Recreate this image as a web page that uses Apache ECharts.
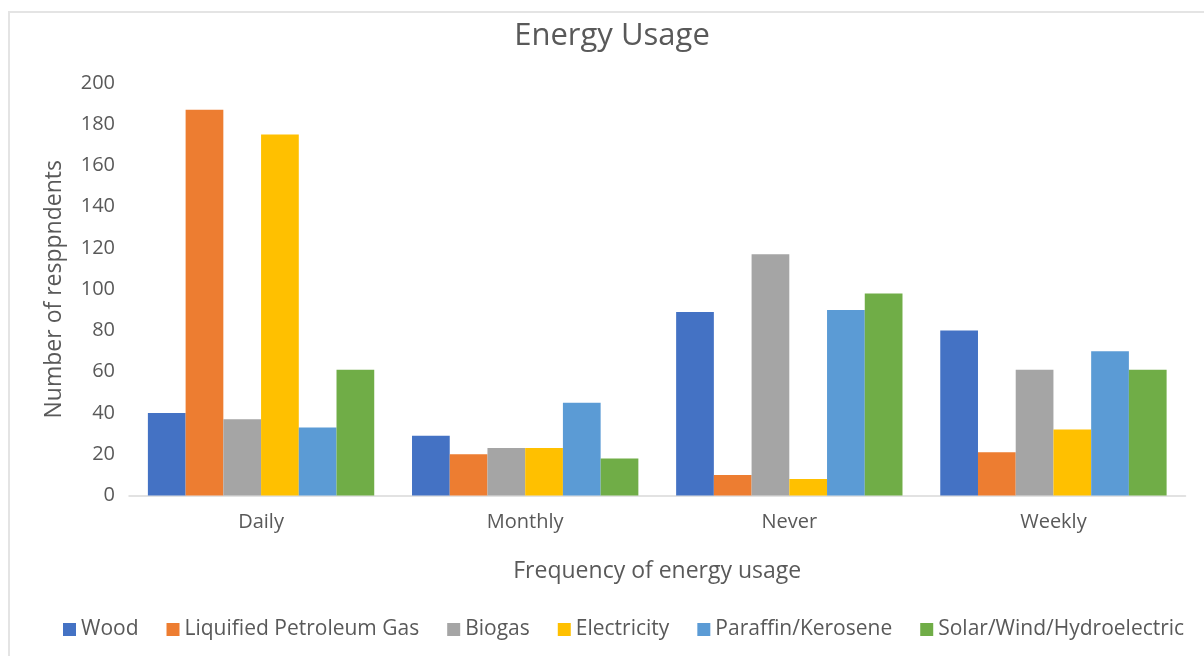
<!DOCTYPE html>
<html>
<head>
<meta charset="utf-8">
<script src="https://cdn.jsdelivr.net/npm/echarts@6/dist/echarts.min.js"></script>
<style>
  html, body { margin: 0; padding: 0; background: #fff; }
  #chart { width: 1204px; height: 656px; }
</style>
</head>
<body>
<div id="chart"></div>
<script>
// Survey responses: how often each energy source is used
const categories = ['Daily', 'Monthly', 'Never', 'Weekly'];
const seriesNames = ['Wood', 'Liquified Petroleum Gas', 'Biogas', 'Electricity', 'Paraffin/Kerosene', 'Solar/Wind/Hydroelectric'];
const wood = [40, 29, 89, 80];
const lpg = [187, 20, 10, 21];
const biogas = [37, 23, 117, 61];
const electricity = [175, 23, 8, 32];
const paraffin = [33, 45, 90, 70];
const solar = [61, 18, 98, 61];
const yTicks = [0, 20, 40, 60, 80, 100, 120, 140, 160, 180, 200];

const colors = ['#4472C4', '#ED7D31', '#A5A5A5', '#FFC000', '#5B9BD5', '#70AD47'];
const seriesData = [wood, lpg, biogas, electricity, paraffin, solar];
const FONT = '"Open Sans", sans-serif';
const TEXT = '#595959';

const chart = echarts.init(document.getElementById('chart'), null, { renderer: 'canvas' });

chart.setOption({
  animation: false,
  backgroundColor: '#ffffff',
  color: colors,
  textStyle: { fontFamily: FONT, color: TEXT },
  graphic: [{
    type: 'rect',
    shape: { x: 9, y: 12, width: 1300, height: 700 },
    style: { fill: 'none', stroke: '#e4e4e4', lineWidth: 2 },
    silent: true,
    z: -1
  }],
  title: {
    text: 'Energy Usage',
    left: 607,
    textAlign: 'center',
    top: 16,
    textStyle: { fontFamily: FONT, fontSize: 31, fontWeight: 'normal', color: TEXT }
  },
  legend: {
    data: seriesNames,
    left: 58,
    top: 614,
    itemWidth: 13,
    itemHeight: 13,
    itemGap: 28,
    icon: 'rect',
    textStyle: { fontFamily: FONT, fontSize: 21, color: TEXT, padding: [0, 0, 0, 0] }
  },
  grid: { left: 129, right: 18.5, top: 83, bottom: 160.5, containLabel: false },
  xAxis: {
    type: 'category',
    data: categories,
    name: 'Frequency of energy usage',
    nameLocation: 'middle',
    nameGap: 64,
    nameTextStyle: { fontFamily: FONT, fontSize: 23, color: TEXT },
    axisLine: { show: true, lineStyle: { color: '#d9d9d9', width: 1.5 } },
    axisTick: { show: false },
    axisLabel: { fontFamily: FONT, fontSize: 20, color: TEXT, margin: 17 }
  },
  yAxis: {
    type: 'value',
    min: yTicks[0],
    max: yTicks[yTicks.length - 1],
    interval: yTicks[1] - yTicks[0],
    name: 'Number of resppndents',
    nameLocation: 'middle',
    nameGap: 63,
    nameRotate: 90,
    nameTextStyle: { fontFamily: FONT, fontSize: 23, color: TEXT },
    axisLine: { show: false },
    axisTick: { show: false },
    splitLine: { show: false },
    axisLabel: { fontFamily: FONT, fontSize: 20, color: TEXT, margin: 14 }
  },
  series: seriesNames.map((name, i) => ({
    name: name,
    type: 'bar',
    data: seriesData[i],
    barGap: '0%',
    barCategoryGap: '14.3%',
    itemStyle: { color: colors[i] }
  }))
});
</script>
</body>
</html>
